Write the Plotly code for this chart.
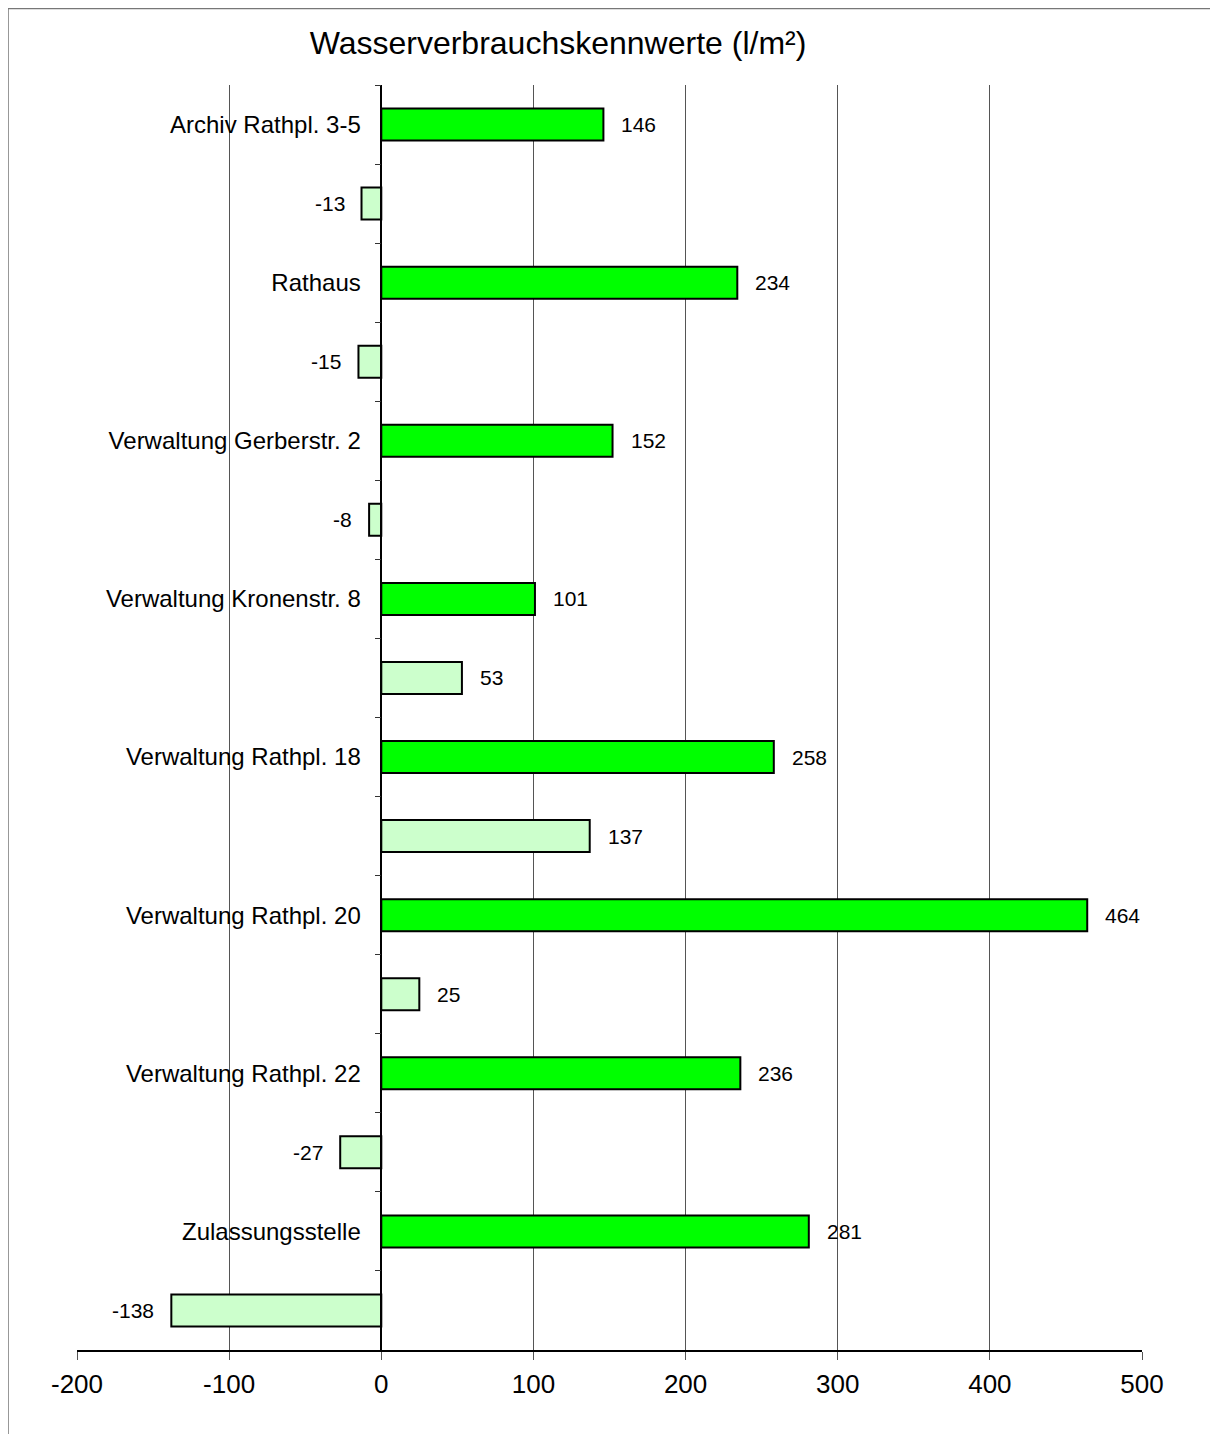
import plotly.graph_objects as go

categories = ["Archiv Rathpl. 3-5", "", "Rathaus", "", "Verwaltung Gerberstr. 2", "",
              "Verwaltung Kronenstr. 8", "", "Verwaltung Rathpl. 18", "",
              "Verwaltung Rathpl. 20", "", "Verwaltung Rathpl. 22", "", "Zulassungsstelle", ""]
values = [146, -13, 234, -15, 152, -8, 101, 53, 258, 137, 464, 25, 236, -27, 281, -138]
x_ticks = [-200, -100, 0, 100, 200, 300, 400, 500]
x_tick_labels = ["-200", "-100", "0", "100", "200", "300", "400", "500"]

DARK = "#00FF00"
LIGHT = "#CCFFCC"
FONT = "Liberation Sans, Arial, sans-serif"

# unique category keys (blank rows made unique with zero-width spaces)
keys = []
blank_count = 0
for c in categories:
    if c == "":
        blank_count += 1
        keys.append("\u200b" * blank_count)
    else:
        keys.append(c)
colors = [LIGHT if c == "" else DARK for c in categories]

W, H = 1218, 1434
L, R, T, B = 69, 84, 77, 92

fig = go.Figure()
fig.add_trace(go.Bar(
    x=values, y=keys, orientation="h",
    marker=dict(color=colors, line=dict(color="black", width=2)),
    width=0.405, hoverinfo="x+y",
))

annotations = []
for k, v in zip(keys, values):
    annotations.append(dict(
        x=v, y=k, xref="x", yref="y", text=str(v), showarrow=False,
        xanchor="left" if v >= 0 else "right", xshift=16 if v >= 0 else -15,
        font=dict(family=FONT, size=21, color="black"),
    ))

xmin, xmax = x_ticks[0], x_ticks[-1]
pw = W - L - R
ph = H - T - B
fig.update_layout(
    width=W, height=H,
    margin=dict(l=L, r=R, t=T, b=B),
    paper_bgcolor="white", plot_bgcolor="white",
    showlegend=False,
    font=dict(family=FONT, color="black"),
    title=dict(text="Wasserverbrauchskennwerte (l/m²)", x=550 / W, xanchor="center",
               y=1 - 35 / H, yanchor="middle", font=dict(family=FONT, size=32, color="black")),
    xaxis=dict(range=[xmin, xmax], tickmode="array", tickvals=x_ticks, ticktext=x_tick_labels,
               showgrid=True, gridcolor="#555555", gridwidth=1,
               zeroline=True, zerolinecolor="black", zerolinewidth=1.5,
               showline=True, linecolor="black", linewidth=1.5,
               ticks="outside", ticklen=8, tickcolor="#555555", tickwidth=1,
               tickfont=dict(family=FONT, size=26, color="black"), ticklabelstandoff=2,
               domain=[0, 1]),
    yaxis=dict(type="category", categoryorder="array", categoryarray=keys, autorange="reversed",
               anchor="free", position=(0 - xmin) / (xmax - xmin),
               showline=True, linecolor="black", linewidth=1.5, showgrid=False, zeroline=False,
               ticks="outside", ticklen=6, tickcolor="#333333", tickwidth=1, tickson="boundaries",
               tickfont=dict(family=FONT, size=24, color="black"), ticklabelstandoff=15),
    annotations=annotations,
    bargap=0.6,
)

# outer chart frame (extends beyond the visible page on the right/bottom)
fig.add_shape(type="rect", xref="paper", yref="paper",
              x0=(0 - L) / pw, x1=(W + 20 - L) / pw,
              y0=(H - B - (H + 20)) / ph, y1=(H - B - 0.5) / ph,
              line=dict(color="#777777", width=1.5), fillcolor="rgba(0,0,0,0)", layer="below")

fig.write_html("out.html")
